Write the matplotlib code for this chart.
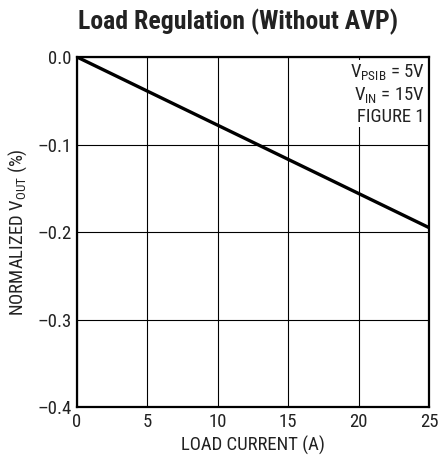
import matplotlib.pyplot as plt

plt.rcParams['font.family'] = ['Roboto Condensed', 'DejaVu Sans']
plt.rcParams['mathtext.fontset'] = 'custom'
plt.rcParams['mathtext.rm'] = 'Roboto Condensed'
plt.rcParams['mathtext.it'] = 'Roboto Condensed'
plt.rcParams['mathtext.bf'] = 'Roboto Condensed:bold'

# data
load_current = [0, 25]
vout_norm = [0, -0.195]
x_ticks = [0, 5, 10, 15, 20, 25]
y_ticks = [0.0, -0.1, -0.2, -0.3, -0.4]
y_labels = ['0.0', '\u20130.1', '\u20130.2', '\u20130.3', '\u20130.4']

fig = plt.figure(figsize=(4.38, 4.68), dpi=100)
ax = fig.add_axes([0.1758, 0.1303, 0.8037, 0.7479])

ax.plot(load_current, vout_norm, color='k', lw=2.4, solid_capstyle='butt')

ax.set_xlim(0, 25)
ax.set_ylim(-0.4, 0)
ax.set_xticks(x_ticks)
ax.set_yticks(y_ticks)
ax.set_yticklabels(y_labels)
ax.grid(True, color='k', lw=0.8)
ax.tick_params(length=0, labelsize=13.5, pad=4, colors='#222222')
for s in ax.spines.values():
    s.set_linewidth(1.6)

ax.set_xlabel('LOAD CURRENT (A)', fontsize=13.5, color='#222222', labelpad=4)
ax.set_ylabel('NORMALIZED V$_{\\mathregular{OUT}}$ (%)', fontsize=13.5, color='#222222', labelpad=6)

fig.text(0.543, 0.953, 'Load Regulation (Without AVP)', ha='center', va='center',
         fontsize=18.5, fontweight='bold', color='#222222')

ax.text(0.988, 0.985, 'V$_{\\mathregular{PSIB}}$ = 5V\nV$_{\\mathregular{IN}}$ = 15V\nFIGURE 1',
        transform=ax.transAxes, ha='right', va='top', fontsize=13.5, color='#222222',
        linespacing=1.2, bbox=dict(facecolor='white', edgecolor='none', pad=1))

fig.savefig('out.png', dpi=100)
